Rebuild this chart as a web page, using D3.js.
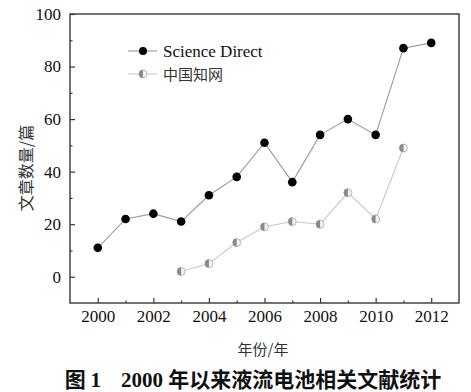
<!DOCTYPE html>
<html>
<head>
<meta charset="utf-8">
<script src="https://cdn.jsdelivr.net/npm/d3@7"></script>
<style>
  body { margin: 0; background: #fff; }
  svg { display: block; }
</style>
</head>
<body>
<div id="vis"></div>
<script>
const FRAME_WIDTH = 471;
const FRAME_HEIGHT = 392;
const MARGINS = {left: 70, right: 12, top: 14, bottom: 89};

const VIS_WIDTH = FRAME_WIDTH - MARGINS.left - MARGINS.right;
const VIS_HEIGHT = FRAME_HEIGHT - MARGINS.top - MARGINS.bottom;

// data
const SD_YEARS = [2000, 2001, 2002, 2003, 2004, 2005, 2006, 2007, 2008, 2009, 2010, 2011, 2012];
const SD_VALUES = [11, 22, 24, 21, 31, 38, 51, 36, 54, 60, 54, 87, 89];
const CNKI_YEARS = [2003, 2004, 2005, 2006, 2007, 2008, 2009, 2010, 2011];
const CNKI_VALUES = [2, 5, 13, 19, 21, 20, 32, 22, 49];
const X_TICKS = [2000, 2002, 2004, 2006, 2008, 2010, 2012];
const X_MINOR = [2001, 2003, 2005, 2007, 2009, 2011];
const Y_TICKS = [0, 20, 40, 60, 80, 100];
const Y_MINOR = [10, 30, 50, 70, 90];
const SERIES_NAMES = ["Science Direct", "中国知网"];

const SERIF = "'Liberation Serif'";
const CJK = "'Noto Sans CJK SC'";

const FRAME = d3.select("#vis")
  .append("svg")
    .attr("width", FRAME_WIDTH)
    .attr("height", FRAME_HEIGHT);

const X_SCALE = d3.scaleLinear().domain([1999, 2013]).range([0, VIS_WIDTH]);
const Y_SCALE = d3.scaleLinear().domain([-10, 100]).range([VIS_HEIGHT, 0]);

const G = FRAME.append("g")
  .attr("transform", "translate(" + MARGINS.left + "," + MARGINS.top + ")");

// minor ticks (inward)
G.append("g")
  .attr("transform", "translate(0," + VIS_HEIGHT + ")")
  .call(d3.axisBottom(X_SCALE).tickValues(X_MINOR).tickSize(-2.5).tickFormat(""))
  .call(g => g.select(".domain").remove());
G.append("g")
  .call(d3.axisLeft(Y_SCALE).tickValues(Y_MINOR).tickSize(-2.5).tickFormat(""))
  .call(g => g.select(".domain").remove());

// major axes
const xAxis = G.append("g")
  .attr("transform", "translate(0," + VIS_HEIGHT + ")")
  .call(d3.axisBottom(X_SCALE).tickValues(X_TICKS).tickSize(-5).tickPadding(7).tickFormat(d3.format("d")));
xAxis.select(".domain").remove();
xAxis.selectAll("text").style("font-family", SERIF).style("font-size", "17px").attr("fill", "#111");

const yAxis = G.append("g")
  .call(d3.axisLeft(Y_SCALE).tickValues(Y_TICKS).tickSize(-5).tickPadding(9));
yAxis.select(".domain").remove();
yAxis.selectAll("text").style("font-family", SERIF).style("font-size", "17px").attr("fill", "#111");

G.selectAll(".tick line").attr("stroke", "#333").attr("stroke-width", 1.2);

// frame box
G.append("rect")
  .attr("width", VIS_WIDTH)
  .attr("height", VIS_HEIGHT)
  .attr("fill", "none")
  .attr("stroke", "#444")
  .attr("stroke-width", 1.5);

const sd = SD_YEARS.map((y, i) => ({year: y, value: SD_VALUES[i]}));
const cnki = CNKI_YEARS.map((y, i) => ({year: y, value: CNKI_VALUES[i]}));

const line = d3.line()
  .x(d => X_SCALE(d.year))
  .y(d => Y_SCALE(d.value));

G.append("path").datum(cnki)
  .attr("d", line).attr("fill", "none").attr("stroke", "#c8c8c8").attr("stroke-width", 1.1);
G.append("path").datum(sd)
  .attr("d", line).attr("fill", "none").attr("stroke", "#9a9a9a").attr("stroke-width", 1.1);

function halfMarker(sel) {
  sel.append("circle").attr("r", 4).attr("fill", "#f2f2f2").attr("stroke", "#aaa").attr("stroke-width", 0.8);
  sel.append("path").attr("d", d3.arc()({innerRadius: 0, outerRadius: 4, startAngle: Math.PI, endAngle: 2 * Math.PI}))
    .attr("fill", "#8a8a8a");
}

G.selectAll(".sdpt").data(sd).enter()
  .append("circle")
    .attr("class", "sdpt")
    .attr("cx", d => X_SCALE(d.year))
    .attr("cy", d => Y_SCALE(d.value))
    .attr("r", 4.3)
    .attr("fill", "#000");

G.selectAll(".cnkipt").data(cnki).enter()
  .append("g")
    .attr("class", "cnkipt")
    .attr("transform", d => "translate(" + X_SCALE(d.year) + "," + Y_SCALE(d.value) + ")")
    .call(halfMarker);

// legend
const LEG = FRAME.append("g").attr("transform", "translate(128,51)");
LEG.append("line").attr("x1", 0).attr("x2", 29).attr("stroke", "#9a9a9a").attr("stroke-width", 1.1);
LEG.append("circle").attr("cx", 15).attr("r", 4).attr("fill", "#000");
LEG.append("text").attr("x", 35).attr("y", 5.5).text(SERIES_NAMES[0])
  .style("font-family", SERIF).style("font-size", "17px").attr("fill", "#111");
const L2 = LEG.append("g").attr("transform", "translate(0,23)");
L2.append("line").attr("x1", 0).attr("x2", 29).attr("stroke", "#c8c8c8").attr("stroke-width", 1.1);
L2.append("g").attr("transform", "translate(15,0)").call(halfMarker);
L2.append("text").attr("x", 35).attr("y", 5.5).text(SERIES_NAMES[1])
  .style("font-family", CJK).style("font-size", "15px").attr("fill", "#333");

// axis titles
FRAME.append("text")
  .attr("transform", "translate(32,168) rotate(-90)")
  .attr("text-anchor", "middle")
  .style("font-family", CJK).style("font-size", "16px").attr("fill", "#333")
  .text("文章数量/篇");

FRAME.append("text")
  .attr("x", 263).attr("y", 355)
  .attr("text-anchor", "middle")
  .style("font-family", CJK).style("font-size", "15px").attr("fill", "#333")
  .text("年份/年");

// caption
const CAP = FRAME.append("text")
  .attr("x", 253).attr("y", 387)
  .attr("text-anchor", "middle")
  .style("font-size", "21px").style("font-weight", "bold").attr("fill", "#111");
CAP.append("tspan").style("font-family", CJK).text("图 ");
CAP.append("tspan").style("font-family", SERIF).text("1");
CAP.append("tspan").style("font-family", SERIF).attr("dx", 20).text("2000 ");
CAP.append("tspan").style("font-family", CJK).text("年以来液流电池相关文献统计");
</script>
</body>
</html>
